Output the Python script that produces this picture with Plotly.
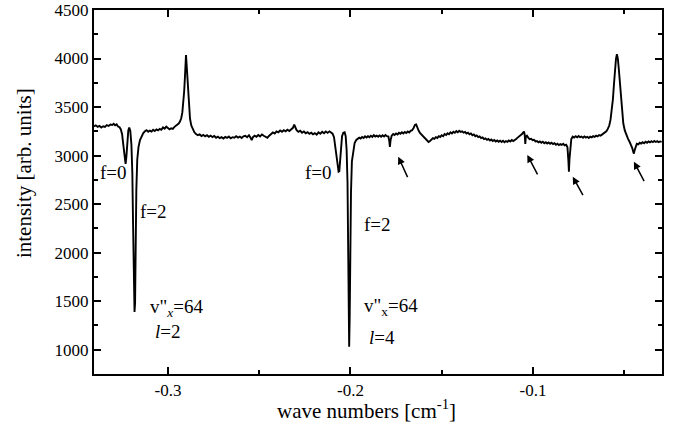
import plotly.graph_objects as go

# ---- spectrum (wave number [cm^-1], intensity [arb. units]) ----
left_baseline = [
    (-0.3405, 3300), (-0.3395, 3312), (-0.3385, 3296), (-0.3375, 3306), (-0.3365, 3290),
    (-0.3355, 3302), (-0.3345, 3296), (-0.3335, 3314), (-0.3325, 3305), (-0.3315, 3320),
    (-0.3305, 3316), (-0.3297, 3328), (-0.3289, 3312), (-0.3281, 3322), (-0.3273, 3300),
    (-0.3265, 3292), (-0.3258, 3270),
]
first_doublet = [
    (-0.3251, 3220), (-0.3245, 3120), (-0.3240, 3010), (-0.3236, 2935), (-0.3232, 2915),
    (-0.3228, 2980), (-0.3223, 3140), (-0.3217, 3260), (-0.3212, 3290), (-0.3206, 3255),
    (-0.3200, 3110), (-0.3195, 2820), (-0.3191, 2300), (-0.3187, 1800), (-0.3183, 1390),
    (-0.3180, 1480), (-0.3177, 2050), (-0.3173, 2650), (-0.3168, 2960), (-0.3161, 3090),
    (-0.3153, 3160), (-0.3144, 3205),
]
first_baseline = [
    (-0.3135, 3232), (-0.3126, 3250), (-0.3117, 3262), (-0.3108, 3246), (-0.3099, 3258),
    (-0.3090, 3248), (-0.3081, 3266), (-0.3072, 3254), (-0.3063, 3270), (-0.3054, 3260),
    (-0.3045, 3275), (-0.3036, 3266), (-0.3027, 3290), (-0.3018, 3278), (-0.3009, 3298),
    (-0.3000, 3284), (-0.2991, 3270), (-0.2982, 3282), (-0.2973, 3276), (-0.2964, 3296),
    (-0.2956, 3306), (-0.2948, 3318),
]
first_peak = [
    (-0.2941, 3330), (-0.2934, 3350), (-0.2927, 3385), (-0.2921, 3445), (-0.2916, 3530),
    (-0.2911, 3660), (-0.2907, 3800), (-0.2904, 3950), (-0.2901, 4035), (-0.2898, 3950),
    (-0.2894, 3800), (-0.2890, 3640), (-0.2885, 3500), (-0.2879, 3380), (-0.2872, 3310),
    (-0.2864, 3268), (-0.2855, 3240), (-0.2846, 3222),
]
middle_baseline = [
    (-0.2836, 3210), (-0.2826, 3218), (-0.2816, 3202), (-0.2806, 3214), (-0.2796, 3198),
    (-0.2786, 3210), (-0.2776, 3194), (-0.2766, 3206), (-0.2756, 3190), (-0.2746, 3202),
    (-0.2736, 3184), (-0.2726, 3195), (-0.2716, 3180), (-0.2706, 3190), (-0.2696, 3176),
    (-0.2686, 3192), (-0.2676, 3182), (-0.2666, 3196), (-0.2656, 3178), (-0.2646, 3190),
    (-0.2636, 3185), (-0.2626, 3200), (-0.2616, 3186), (-0.2606, 3196), (-0.2596, 3182),
    (-0.2586, 3198), (-0.2576, 3204), (-0.2566, 3190), (-0.2556, 3210), (-0.2548, 3186),
    (-0.2541, 3160), (-0.2534, 3190), (-0.2525, 3205), (-0.2515, 3194), (-0.2505, 3212),
    (-0.2495, 3198), (-0.2485, 3218), (-0.2475, 3204), (-0.2465, 3194), (-0.2455, 3184),
    (-0.2445, 3205), (-0.2435, 3224), (-0.2425, 3238), (-0.2415, 3228), (-0.2405, 3250),
    (-0.2395, 3240), (-0.2385, 3258), (-0.2375, 3246), (-0.2365, 3262), (-0.2355, 3250),
    (-0.2345, 3266), (-0.2335, 3254), (-0.2325, 3272), (-0.2315, 3286), (-0.2308, 3318),
    (-0.2302, 3292), (-0.2295, 3262), (-0.2285, 3244), (-0.2275, 3256), (-0.2265, 3236),
    (-0.2255, 3248), (-0.2245, 3230), (-0.2235, 3242), (-0.2225, 3224), (-0.2215, 3236),
    (-0.2205, 3220), (-0.2195, 3232), (-0.2185, 3216), (-0.2175, 3240), (-0.2165, 3226),
    (-0.2155, 3245), (-0.2145, 3230), (-0.2135, 3248), (-0.2125, 3234), (-0.2115, 3250),
    (-0.2106, 3238), (-0.2098, 3226),
]
second_doublet = [
    (-0.2090, 3190), (-0.2083, 3090), (-0.2076, 2950), (-0.2070, 2860), (-0.2065, 2835),
    (-0.2061, 2840), (-0.2057, 2920), (-0.2052, 3090), (-0.2046, 3200), (-0.2039, 3236),
    (-0.2032, 3240), (-0.2026, 3200), (-0.2021, 3060), (-0.2016, 2720), (-0.2013, 2250),
    (-0.2010, 1650), (-0.2007, 1030), (-0.2004, 1350), (-0.2001, 2050), (-0.1997, 2620),
    (-0.1992, 2940), (-0.1985, 3060), (-0.1977, 3130), (-0.1968, 3162),
]
right_baseline = [
    (-0.1960, 3172), (-0.1952, 3185), (-0.1944, 3176), (-0.1936, 3192), (-0.1928, 3182),
    (-0.1920, 3198), (-0.1912, 3186), (-0.1904, 3200), (-0.1896, 3190), (-0.1888, 3205),
    (-0.1880, 3192), (-0.1872, 3210), (-0.1864, 3196), (-0.1856, 3206), (-0.1848, 3194),
    (-0.1840, 3208), (-0.1832, 3195), (-0.1824, 3210), (-0.1816, 3198), (-0.1808, 3212),
    (-0.1800, 3200), (-0.1792, 3196), (-0.1787, 3150), (-0.1784, 3090), (-0.1780, 3160),
    (-0.1774, 3205), (-0.1766, 3222), (-0.1758, 3212), (-0.1750, 3228), (-0.1742, 3218),
    (-0.1734, 3235), (-0.1726, 3225), (-0.1718, 3240), (-0.1710, 3228), (-0.1702, 3244),
    (-0.1694, 3232), (-0.1686, 3248), (-0.1678, 3238), (-0.1670, 3255), (-0.1662, 3262),
    (-0.1654, 3285), (-0.1646, 3318), (-0.1640, 3322), (-0.1634, 3290), (-0.1626, 3255),
    (-0.1618, 3232), (-0.1610, 3215), (-0.1600, 3195), (-0.1590, 3170), (-0.1580, 3150),
    (-0.1572, 3140), (-0.1564, 3150), (-0.1556, 3168), (-0.1548, 3180), (-0.1540, 3172),
    (-0.1532, 3190), (-0.1524, 3182), (-0.1516, 3200), (-0.1508, 3192), (-0.1500, 3210),
    (-0.1492, 3200), (-0.1484, 3222), (-0.1476, 3212), (-0.1468, 3230), (-0.1460, 3220),
    (-0.1452, 3240), (-0.1444, 3228), (-0.1436, 3245), (-0.1428, 3235), (-0.1420, 3252),
    (-0.1412, 3240), (-0.1404, 3256), (-0.1396, 3244), (-0.1388, 3250), (-0.1380, 3236),
    (-0.1372, 3244), (-0.1364, 3228), (-0.1356, 3236), (-0.1348, 3220), (-0.1340, 3228),
    (-0.1332, 3210), (-0.1324, 3218), (-0.1316, 3200), (-0.1308, 3208), (-0.1300, 3190),
    (-0.1292, 3198), (-0.1284, 3180), (-0.1276, 3188), (-0.1268, 3170), (-0.1260, 3178),
    (-0.1252, 3162), (-0.1244, 3172), (-0.1236, 3156), (-0.1228, 3166), (-0.1220, 3150),
    (-0.1212, 3160), (-0.1204, 3145), (-0.1196, 3156), (-0.1188, 3142), (-0.1180, 3154),
    (-0.1172, 3140), (-0.1164, 3152), (-0.1156, 3138), (-0.1148, 3150), (-0.1140, 3142),
    (-0.1132, 3156), (-0.1124, 3146), (-0.1116, 3160), (-0.1108, 3150), (-0.1100, 3166),
]
right_features = [
    (-0.1092, 3172), (-0.1084, 3185), (-0.1076, 3196), (-0.1068, 3208), (-0.1060, 3222),
    (-0.1054, 3236), (-0.1049, 3248), (-0.1045, 3210), (-0.1042, 3120), (-0.1039, 3195),
    (-0.1033, 3205), (-0.1026, 3186), (-0.1018, 3170), (-0.1010, 3174), (-0.1002, 3158),
    (-0.0994, 3162), (-0.0986, 3146), (-0.0978, 3150), (-0.0970, 3136), (-0.0962, 3146),
    (-0.0954, 3132), (-0.0946, 3142), (-0.0938, 3128), (-0.0930, 3138), (-0.0922, 3124),
    (-0.0914, 3135), (-0.0906, 3122), (-0.0898, 3132), (-0.0890, 3118), (-0.0882, 3128),
    (-0.0874, 3112), (-0.0866, 3122), (-0.0858, 3108), (-0.0850, 3118), (-0.0842, 3110),
    (-0.0834, 3122), (-0.0826, 3105), (-0.0818, 3112), (-0.0811, 3085), (-0.0806, 2950),
    (-0.0803, 2835), (-0.0800, 2960), (-0.0796, 3100), (-0.0790, 3170), (-0.0782, 3195),
    (-0.0774, 3185), (-0.0766, 3200), (-0.0758, 3188), (-0.0750, 3202), (-0.0742, 3190),
    (-0.0734, 3196), (-0.0726, 3184), (-0.0718, 3198), (-0.0710, 3186), (-0.0702, 3194),
    (-0.0694, 3182), (-0.0686, 3196), (-0.0678, 3188), (-0.0670, 3200), (-0.0662, 3192),
    (-0.0654, 3205), (-0.0646, 3198), (-0.0638, 3212), (-0.0630, 3205), (-0.0622, 3216),
]
second_peak = [
    (-0.0614, 3226), (-0.0606, 3238), (-0.0598, 3250), (-0.0590, 3275), (-0.0582, 3310),
    (-0.0575, 3370), (-0.0568, 3460), (-0.0562, 3580), (-0.0556, 3740), (-0.0550, 3900),
    (-0.0545, 4000), (-0.0540, 4045), (-0.0535, 4000), (-0.0530, 3900), (-0.0524, 3740),
    (-0.0518, 3580), (-0.0512, 3430), (-0.0505, 3330), (-0.0497, 3260), (-0.0488, 3210),
    (-0.0479, 3172), (-0.0470, 3140), (-0.0462, 3110), (-0.0456, 3078), (-0.0451, 3042),
    (-0.0447, 3020), (-0.0443, 3055), (-0.0438, 3095), (-0.0431, 3122),
]
tail_baseline = [
    (-0.0423, 3116), (-0.0415, 3132), (-0.0407, 3124), (-0.0399, 3138), (-0.0391, 3128),
    (-0.0383, 3142), (-0.0375, 3132), (-0.0367, 3146), (-0.0359, 3136), (-0.0351, 3148),
    (-0.0343, 3138), (-0.0335, 3150), (-0.0327, 3140), (-0.0319, 3148), (-0.0311, 3138),
    (-0.0303, 3146), (-0.0295, 3142),
]

segments = [left_baseline, first_doublet, first_baseline, first_peak, middle_baseline,
            second_doublet, right_baseline, right_features, second_peak, tail_baseline]
wavenumber = [p[0] for seg in segments for p in seg]
intensity = [p[1] for seg in segments for p in seg]

# ---- axes ----
x_range = [-0.3405, -0.0293]
y_range = [750, 4500]
x_tick_vals = [-0.3, -0.2, -0.1]
x_tick_text = ["-0.3", "-0.2", "-0.1"]
x_minor_vals = [-0.25, -0.15, -0.05]
y_tick_vals = [1000, 1500, 2000, 2500, 3000, 3500, 4000, 4500]
y_tick_text = ["1000", "1500", "2000", "2500", "3000", "3500", "4000", "4500"]
y_minor_vals = [1250, 1750, 2250, 2750, 3250, 3750, 4250]
x_title = "wave numbers [cm<sup>-1</sup>]"
y_title = "intensity [arb. units]"

# ---- labels: (text, x, y, xanchor) ----
labels = [
    ("f=0", -0.3296, 2821, "center"),
    ("f=2", -0.3164, 2420, "left"),
    ('v"<sub><i>x</i></sub>=64', -0.3110, 1430, "left"),
    ("<i>l</i>=2", -0.3082, 1185, "left"),
    ("f=0", -0.2173, 2821, "center"),
    ("f=2", -0.1937, 2286, "left"),
    ('v"<sub>x</sub>=64', -0.1937, 1440, "left"),
    ("<i>l</i>=4", -0.1910, 1123, "left"),
]
# arrows: tip (x, y) and tail offset in pixels
arrows = [
    (-0.1738, 2989, 10, 22),
    (-0.1031, 3007, 11, 21),
    (-0.0782, 2783, 11, 20),
    (-0.0447, 2937, 11, 21),
]

FONT = "Liberation Serif"

fig = go.Figure()
fig.add_trace(go.Scatter(x=wavenumber, y=intensity, mode="lines",
                         line=dict(color="black", width=1.9), showlegend=False))

annotations = []
for text, x, y, xa in labels:
    annotations.append(dict(x=x, y=y, xref="x", yref="y", text=text, showarrow=False,
                            xanchor=xa, yanchor="middle",
                            font=dict(family=FONT, size=19, color="black")))
for x, y, ax, ay in arrows:
    annotations.append(dict(x=x, y=y, xref="x", yref="y", text="", showarrow=True,
                            ax=ax, ay=ay, arrowhead=2, arrowsize=1, arrowwidth=1.5,
                            arrowcolor="black", standoff=0))
# axis titles placed as paper-referenced text
annotations.append(dict(x=-0.1232, y=0.552, xref="paper", yref="paper", text=y_title,
                        textangle=-90, showarrow=False, xanchor="center", yanchor="middle",
                        font=dict(family=FONT, size=21, color="black")))
annotations.append(dict(x=0.479, y=-0.097, xref="paper", yref="paper", text=x_title,
                        showarrow=False, xanchor="center", yanchor="middle",
                        font=dict(family=FONT, size=21, color="black")))

axis_common = dict(showline=True, linecolor="black", linewidth=2, mirror="ticks",
                   ticks="inside", ticklen=7, tickwidth=1.5, tickcolor="black",
                   showgrid=False, zeroline=False, automargin=False,
                   tickfont=dict(family=FONT, size=17, color="black"))

fig.update_layout(
    width=674, height=430,
    margin=dict(l=94, r=12, t=10, b=56),
    paper_bgcolor="white", plot_bgcolor="white",
    font=dict(family=FONT, color="black"),
    annotations=annotations,
    hovermode=False,
    xaxis=dict(range=x_range, tickmode="array", tickvals=x_tick_vals, ticktext=x_tick_text,
               minor=dict(tickmode="array", tickvals=x_minor_vals, ticks="inside", ticklen=4,
                          tickwidth=1.5, tickcolor="black"),
               **axis_common),
    yaxis=dict(range=y_range, tickmode="array", tickvals=y_tick_vals, ticktext=y_tick_text,
               minor=dict(tickmode="array", tickvals=y_minor_vals, ticks="inside", ticklen=4,
                          tickwidth=1.5, tickcolor="black"),
               ticklabeloverflow="allow",
               **axis_common),
)

# remove the default page margin so the 674x430 figure fills the window exactly
fig.write_html("out.html", config={"displayModeBar": False},
               post_script="document.body.style.margin='0';document.body.style.overflow='hidden';")
